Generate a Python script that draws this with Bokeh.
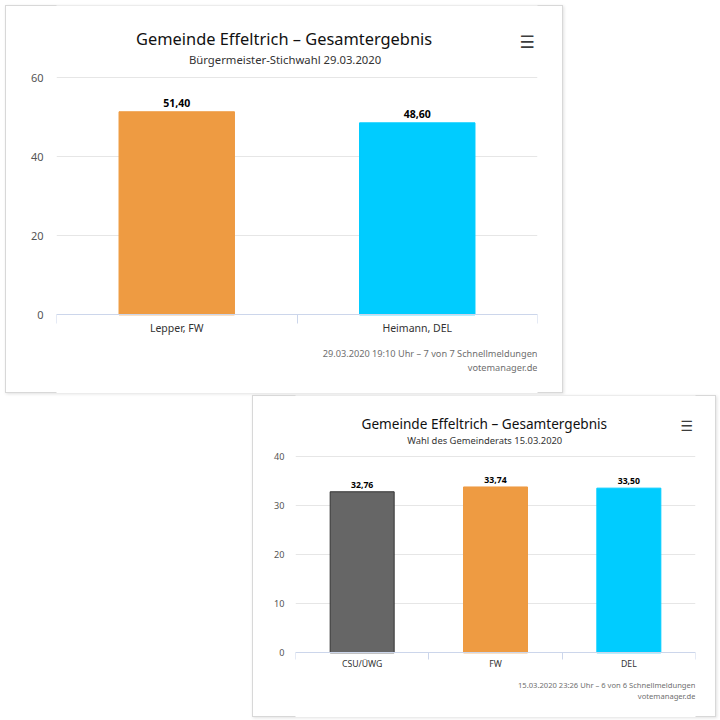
from bokeh.plotting import figure
from bokeh.models import ColumnDataSource, FixedTicker, Label, LabelSet, Spacer, Range1d
from bokeh.layouts import column, row
from bokeh.core.properties import value
from bokeh.embed import file_html
from bokeh.resources import INLINE

# ---------------- data ----------------
c1_categories = ["Lepper, FW", "Heimann, DEL"]
c1_values = [51.40, 48.60]
c1_fill = ["#EE9B42", "#00CCFF"]
c1_line = ["#EE9B42", "#00CCFF"]
c1_yticks = [0, 20, 40, 60]
c1_title = "Gemeinde Effeltrich – Gesamtergebnis"
c1_subtitle = "Bürgermeister-Stichwahl 29.03.2020"
c1_credit = "29.03.2020 19:10 Uhr – 7 von 7 Schnellmeldungen"
c1_site = "votemanager.de"

c2_categories = ["CSU/ÜWG", "FW", "DEL"]
c2_values = [32.76, 33.74, 33.50]
c2_fill = ["#666666", "#EE9B42", "#00CCFF"]
c2_line = ["#333333", "#EE9B42", "#00CCFF"]
c2_yticks = [0, 10, 20, 30, 40]
c2_title = "Gemeinde Effeltrich – Gesamtergebnis"
c2_subtitle = "Wahl des Gemeinderats 15.03.2020"
c2_credit = "15.03.2020 23:26 Uhr – 6 von 6 Schnellmeldungen"
c2_site = "votemanager.de"

FONT = "Noto Sans"


def make_chart(cats, vals, fills, lines, yticks, title, subtitle, credit, site, g):
    s = g["s"]
    W, H = g["W"], g["H"]
    ox, oy = g["ox"], g["oy"]                 # page position of the chart box
    bl = int(round(g["frame_left"] - ox))
    br = int(round(ox + W - g["frame_right"]))
    fl = ox + bl
    y0, ytop = g["zero_y"], g["top_y"]          # page y of value 0 and of the top tick
    k = (y0 - ytop) / (yticks[-1] - yticks[0])  # pixels per unit
    bottom = oy + H
    y_start = -(bottom - y0) / k
    y_end = (y0 - oy) / k

    def sx(px):
        return px - fl

    def sy(py):
        return bottom - py

    n = len(cats)
    xs = [i + 0.5 for i in range(n)]
    labels = [f"{v:.2f}".replace(".", ",") for v in vals]
    src = ColumnDataSource(dict(x=xs, top=vals, fill=fills, line=lines, label=labels))
    p = figure(width=W, height=H, x_range=Range1d(0, n), y_range=Range1d(y_start, y_end),
               output_backend="svg", toolbar_location=None, title=None,
               min_border_left=bl, min_border_right=br,
               min_border_top=0, min_border_bottom=0)
    p.border_fill_color = None
    p.background_fill_color = "white"
    p.outline_line_color = None
    p.styles = {"outline": "1px solid #d8d8d8", "outline-offset": "-1px",
                "box-shadow": "1px 1px 3px rgba(0,0,0,0.12)"}

    p.vbar(x="x", top="top", bottom=0, width=0.48, fill_color="fill", line_color="line",
           line_width=1, source=src)
    p.add_layout(LabelSet(x="x", y="top", text="label", source=src, y_offset=5 * s,
                          text_align="center", text_baseline="alphabetic",
                          text_font=value(FONT), text_font_style="bold",
                          text_font_size=f"{10.5 * s:.1f}px", text_color="#000000"))

    xa = p.xaxis[0]
    xa.fixed_location = 0
    xa.ticker = FixedTicker(ticks=xs, minor_ticks=list(range(n + 1)))
    xa.major_label_overrides = {x: c for x, c in zip(xs, cats)}
    xa.major_tick_line_color = None
    xa.major_tick_out = 0
    xa.major_tick_in = 0
    xa.minor_tick_line_color = "#ccd6eb"
    xa.minor_tick_out = round(9 * s)
    xa.minor_tick_in = 0
    xa.axis_line_color = "#ccd6eb"
    xa.major_label_standoff = g["cat_standoff"]
    xa.major_label_text_font = FONT
    xa.major_label_text_font_size = f"{10.5 * s:.1f}px"
    xa.major_label_text_color = "#333333"

    ya = p.yaxis[0]
    ya.ticker = FixedTicker(ticks=yticks)
    ya.axis_line_color = None
    ya.major_tick_line_color = None
    ya.major_tick_out = 0
    ya.major_tick_in = 0
    ya.minor_tick_line_color = None
    ya.major_label_standoff = round(13 * s)
    ya.major_label_text_font = FONT
    ya.major_label_text_font_size = f"{11 * s:.1f}px"
    ya.major_label_text_color = "#555555"

    p.ygrid.grid_line_color = "#e6e6e6"
    p.xgrid.grid_line_color = None

    def text(t, x, y, size, color, align="center", style="normal", font=FONT):
        p.add_layout(Label(x=sx(x), y=sy(y), x_units="screen", y_units="screen", text=t,
                           text_align=align, text_baseline="middle", text_font=font,
                           text_font_style=style, text_font_size=f"{size:.1f}px",
                           text_color=color))

    text(title, g["title_x"], g["title_y"], 16.4 * s, "#111111")
    text(subtitle, g["sub_x"], g["sub_y"], 11.3 * s, "#333333")
    text("☰", g["icon_x"], g["icon_y"], 17 * s, "#3d3d3d", style="bold", font="DejaVu Sans")
    text(credit, g["frame_right"], g["cred_y1"], 9.2 * s, "#6f6f6f", align="right")
    text(site, g["frame_right"], g["cred_y2"], 9.2 * s, "#6f6f6f", align="right")
    return p


# page positions (px) of the chart boxes and of the texts' visual centres
g1 = dict(s=1.0, ox=5, oy=5, W=558, H=388, frame_left=56, frame_right=537,
          zero_y=314.3, top_y=77.3, title_x=283.6, title_y=38.3, sub_x=284.6, sub_y=58.7,
          icon_x=526.7, icon_y=41.8, cred_y1=353.3, cred_y2=366.7, cat_standoff=-3)
g2 = dict(s=0.8315, ox=252, oy=395, W=464, H=322, frame_left=295, frame_right=695,
          zero_y=652.3, top_y=455.7, title_x=483.8, title_y=422.8, sub_x=484.2, sub_y=440.3,
          icon_x=686.4, icon_y=425.8, cred_y1=684.7, cred_y2=695.5, cat_standoff=-2)

p1 = make_chart(c1_categories, c1_values, c1_fill, c1_line, c1_yticks, c1_title, c1_subtitle,
                c1_credit, c1_site, g1)
p2 = make_chart(c2_categories, c2_values, c2_fill, c2_line, c2_yticks, c2_title, c2_subtitle,
                c2_credit, c2_site, g2)

layout = column(Spacer(height=g1["oy"]),
                row(Spacer(width=g1["ox"]), p1),
                Spacer(height=g2["oy"] - g1["oy"] - g1["H"]),
                row(Spacer(width=g2["ox"]), p2))

open("out.html", "w").write(file_html(layout, INLINE))
